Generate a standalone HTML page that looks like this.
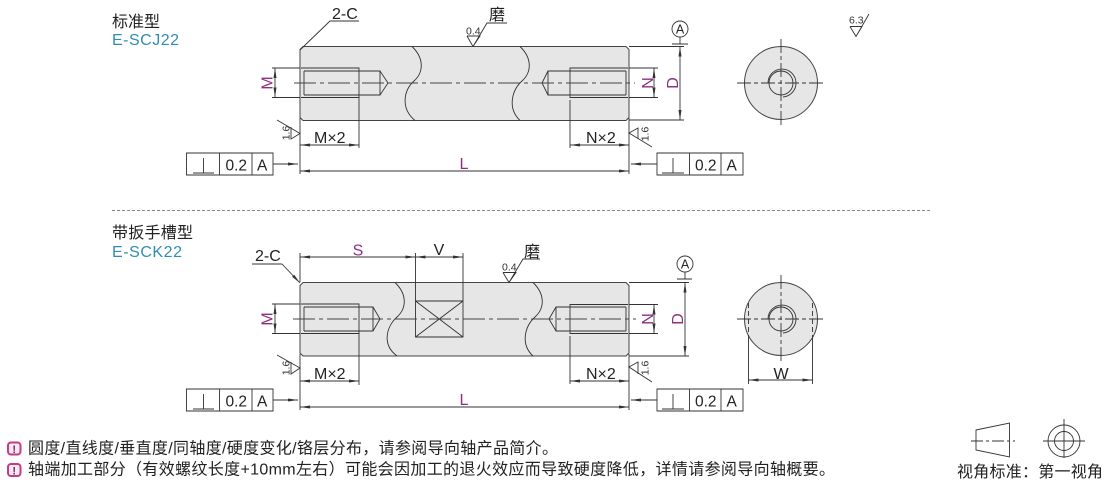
<!DOCTYPE html>
<html><head><meta charset="utf-8">
<style>
html,body{margin:0;padding:0;background:#fff;width:1110px;height:484px;overflow:hidden}
svg{display:block}
text{font-family:"Liberation Sans","Noto Sans CJK SC",sans-serif;fill:#222}
.l{fill:none;stroke:#333;stroke-width:.9}
.a{fill:none;stroke:#333;stroke-width:.9;marker-start:url(#ar);marker-end:url(#ar)}
.e{fill:none;stroke:#333;stroke-width:.9;marker-end:url(#ar)}
.c{fill:none;stroke:#444;stroke-width:.9;stroke-dasharray:22 4 4 4}
.p{fill:#8e2f80;font-size:16px}
.d{font-size:16px;fill:#222}
.f{font-size:15.5px;fill:#222}
.s{font-size:10.5px;fill:#333}
.b{fill:#e6e6e6;stroke:#444;stroke-width:1}
.t{fill:#2f8db3;font-size:16px}
.n{font-size:16px;fill:#222}
</style></head><body>
<svg width="1110" height="484" viewBox="0 0 1110 484" xmlns="http://www.w3.org/2000/svg">
<defs>
<marker id="ar" markerUnits="userSpaceOnUse" markerWidth="12" markerHeight="6" refX="10" refY="3" orient="auto-start-reverse"><path d="M0 1.5L10 3L0 4.500z" fill="#333"/></marker>
</defs>

<!-- titles -->
<text x="112" y="27" style="font-size:16px" textLength="48">标准型</text>
<text x="112" y="45" class="t" textLength="67">E-SCJ22</text>
<text x="112" y="238" style="font-size:16px" textLength="81">带扳手槽型</text>
<text x="112" y="257" class="t" textLength="70">E-SCK22</text>
<line x1="112" y1="210.500" x2="932" y2="210.500" stroke="#888" stroke-width=".9" stroke-dasharray="3 2"/>

<!-- TOP BODY -->
<path class="b" d="M303 46.500H626L629 49.500V117.500L626 120.500H303L300 117.500V49.500Z"/>
<path class="l" d="M412 46.500C424 58 424 72 414 81C404 90 400 108 415 120.500"/>
<path class="l" d="M520 46.500C532 58 532 72 522 81C512 90 507 108 520 120.500"/>
<path class="l" d="M301 68H359V97.500H301M304 71V95M304 71H380V95H304M380 71L388 83L380 95"/>
<path class="l" d="M628 68H570V97.500H628M626 71V95M626 71H548V95H626M548 71L542 83L548 95"/>
<line class="c" x1="294" y1="83" x2="635" y2="83"/>
<!-- 2-C -->
<text x="332" y="19" class="d">2-C</text>
<path class="l" d="M300 50L330 21H359"/>
<!-- M -->
<path class="l" d="M272 68H300M272 97.500H300"/>
<line class="a" x1="275" y1="68" x2="275" y2="97.500"/>
<text class="p" transform="translate(272.500,83) rotate(-90)" text-anchor="middle">M</text>
<!-- 1.6 left -->
<path class="l" d="M277 120L300 133.500L291 139V127"/>
<text class="s" transform="translate(289.500,133) rotate(-90)" text-anchor="middle">1.6</text>
<!-- dims -->
<path class="l" d="M300 118V174M359 97V148M570 100V148M629 118V174"/>
<line class="a" x1="300" y1="145" x2="359" y2="145"/>
<text x="314" y="143" class="d">M×2</text>
<line class="a" x1="570" y1="145" x2="629" y2="145"/>
<text x="586" y="143" class="d">N×2</text>
<line class="a" x1="300" y1="171" x2="629" y2="171"/>
<text x="464" y="169" class="p" text-anchor="middle">L</text>
<!-- tol left -->
<path class="l" d="M186.500 153H273V175H186.500ZM219.500 153V175M252 153V175"/>
<path class="l" d="M193 173H214M203.500 158V173"/>
<text x="225.500" y="170.500" class="f">0.2</text><text x="257" y="170.500" class="f">A</text>
<line class="e" x1="273" y1="164" x2="298" y2="164"/>
<!-- tol right -->
<path class="l" d="M657 153H743V175H657ZM689.500 153V175M721 153V175"/>
<path class="l" d="M662 173H684M673 158V173"/>
<text x="695" y="170.500" class="f">0.2</text><text x="726.500" y="170.500" class="f">A</text>
<line class="e" x1="657" y1="164" x2="631" y2="164"/>
<!-- 1.6 right -->
<path class="l" d="M652 147L629 133L638 128V139"/>
<text class="s" transform="translate(648.500,134) rotate(-90)" text-anchor="middle">1.6</text>
<!-- N, D -->
<path class="l" d="M629 68H658M629 97.500H658M629 46.500H684M629 120H684"/>
<line class="a" x1="654" y1="68" x2="654" y2="97.500"/>
<text class="p" transform="translate(653,83) rotate(-90)" text-anchor="middle">N</text>
<line class="a" x1="680" y1="46.500" x2="680" y2="120"/>
<text class="p" transform="translate(678,83) rotate(-90)" text-anchor="middle">D</text>
<circle class="l" cx="680" cy="29" r="8"/><text x="680" y="33.500" text-anchor="middle" style="font-size:12.500px">A</text>
<path class="l" d="M680 37V44M672 44H688"/>
<!-- grind -->
<path class="l" d="M467 36H480L473 46.500L487 23H507M467 36L473 46.500"/>
<text x="489" y="20" style="font-size:16px">磨</text>
<text x="466" y="34.500" class="s">0.4</text>
<!-- end view top -->
<circle class="b" cx="781" cy="83" r="36.500"/>
<circle class="l" cx="781" cy="83" r="12"/>
<path class="l" d="M768 83A14 14 0 1 1 783 97"/>
<path class="l" stroke-dasharray="14 3 4 3" d="M737 83H825M781 39V127"/>
<!-- 6.3 -->
<text x="849" y="23.500" class="s">6.3</text>
<path class="l" d="M850 26.500H862L856 36.500L850 26.500M856 36.500L869 14"/>

<!-- BOTTOM BODY -->
<path class="b" d="M303 282.500H626L629 285.500V353L626 356H303L300 353V285.500Z"/>
<path class="l" d="M395 282.500C407 294 407 308 397 317C387 326 381 344 397 356"/>
<path class="l" d="M533 282.500C545 294 545 308 535 317C525 326 520 344 533 356"/>
<path class="l" d="M301 304H359V333.500H301M304 307V331M304 307H373V331H304M373 307L380 319L373 331"/>
<path class="l" d="M628 304.500H570V333.500H628M626 307V331M626 307H556V331H626M556 307L549 319L556 331"/>
<path class="l" d="M415.500 301H463V337H415.500ZM415.500 301L463 337M463 301L415.500 337"/>
<line class="c" x1="293" y1="319" x2="636" y2="319"/>
<!-- 2-C -->
<text x="255" y="261" class="d">2-C</text>
<path class="l" d="M252 264H282"/>
<line class="e" x1="282" y1="264" x2="300" y2="283"/>
<!-- S V -->
<path class="l" d="M300 253V282M415.500 253V301M463 253V301"/>
<line class="a" x1="300" y1="257" x2="415.500" y2="257"/>
<line class="a" x1="415.500" y1="257" x2="463" y2="257"/>
<text x="358" y="255.500" class="p" text-anchor="middle">S</text>
<text x="439" y="255" class="d" text-anchor="middle">V</text>
<!-- M -->
<path class="l" d="M272 304H300M272 333.500H300"/>
<line class="a" x1="275" y1="304" x2="275" y2="333.500"/>
<text class="p" transform="translate(272.500,319) rotate(-90)" text-anchor="middle">M</text>
<!-- 1.6 -->
<path class="l" d="M277 355L300 368L291 374V362"/>
<text class="s" transform="translate(289.500,368) rotate(-90)" text-anchor="middle">1.6</text>
<!-- dims -->
<path class="l" d="M300 354V410M359 333V385M570 336V384M629 354V410"/>
<line class="a" x1="300" y1="381" x2="359" y2="381"/>
<text x="314" y="379" class="d">M×2</text>
<line class="a" x1="570" y1="381" x2="629" y2="381"/>
<text x="586" y="379" class="d">N×2</text>
<line class="a" x1="300" y1="407" x2="629" y2="407"/>
<text x="464" y="405" class="p" text-anchor="middle">L</text>
<!-- tol left -->
<path class="l" d="M186.500 389H273V411H186.500ZM219.500 389V411M252 389V411"/>
<path class="l" d="M193 409H214M203.500 394V409"/>
<text x="225.500" y="406.500" class="f">0.2</text><text x="257" y="406.500" class="f">A</text>
<line class="e" x1="273" y1="400" x2="298" y2="400"/>
<!-- tol right -->
<path class="l" d="M657 389H743V411H657ZM689.500 389V411M721 389V411"/>
<path class="l" d="M662 409H684M673 394V409"/>
<text x="695" y="406.500" class="f">0.2</text><text x="726.500" y="406.500" class="f">A</text>
<line class="e" x1="657" y1="400" x2="631" y2="400"/>
<!-- 1.6 right -->
<path class="l" d="M652 382L629 367L638 362V374"/>
<text class="s" transform="translate(648.500,368) rotate(-90)" text-anchor="middle">1.6</text>
<!-- N D -->
<path class="l" d="M629 304.500H658M629 333.500H658M629 282.500H689M629 356H689"/>
<line class="a" x1="654" y1="304.500" x2="654" y2="333.500"/>
<text class="p" transform="translate(653,319) rotate(-90)" text-anchor="middle">N</text>
<line class="a" x1="685" y1="282.500" x2="685" y2="356"/>
<text class="p" transform="translate(683,319) rotate(-90)" text-anchor="middle">D</text>
<circle class="l" cx="685" cy="264" r="8"/><text x="685" y="268.500" text-anchor="middle" style="font-size:12.500px">A</text>
<path class="l" d="M685 272V279M677 279H692"/>
<!-- grind -->
<path class="l" d="M503 272.500H516L509 282.500L523 259H540M503 272.500L509 282.500"/>
<text x="524" y="257" style="font-size:16px">磨</text>
<text x="502" y="270.500" class="s">0.4</text>
<!-- end view bottom -->
<circle class="b" cx="781" cy="319" r="36.500"/>
<circle class="l" cx="781" cy="319" r="12"/>
<path class="l" d="M768 319A14 14 0 1 1 783 333"/>
<path class="l" stroke-dasharray="14 3 4 3" d="M737 319H825M781 275V363"/>
<path class="l" stroke-dasharray="5 3" d="M748.500 303V336M812.500 303V336"/>
<path class="l" d="M748.500 336V384M812.500 336V384"/>
<line class="a" x1="748.500" y1="380" x2="812.500" y2="380"/>
<text x="781" y="379" class="d" text-anchor="middle">W</text>

<!-- notes -->
<rect x="8" y="442.500" width="12.500" height="12" rx="3" fill="#fbe9f2" stroke="#c63a88" stroke-width="2"/>
<text x="14.250" y="453" text-anchor="middle" style="font-size:11px;font-weight:bold;fill:#7a2a5e">!</text>
<rect x="8" y="464" width="12.500" height="12" rx="3" fill="#fbe9f2" stroke="#c63a88" stroke-width="2"/>
<text x="14.250" y="474.500" text-anchor="middle" style="font-size:11px;font-weight:bold;fill:#7a2a5e">!</text>
<text x="28" y="453.500" class="n" textLength="530">圆度/直线度/垂直度/同轴度/硬度变化/铬层分布，请参阅导向轴产品简介。</text>
<text x="28" y="474.500" class="n" textLength="807">轴端加工部分（有效螺纹长度+10mm左右）可能会因加工的退火效应而导致硬度降低，详情请参阅导向轴概要。</text>

<!-- view symbol -->
<path class="l" d="M976 430L1009.500 423V457L976 450Z"/>
<path class="l" stroke-dasharray="12 3 3 3" d="M971 441H1015"/>
<circle class="l" cx="1064" cy="441" r="16"/>
<circle class="l" cx="1064" cy="441" r="9.500"/>
<path class="l" d="M1043 441H1085M1064 419V458"/>
<text x="957" y="477" style="font-size:16px" textLength="146">视角标准：第一视角</text>
</svg>
</body></html>
